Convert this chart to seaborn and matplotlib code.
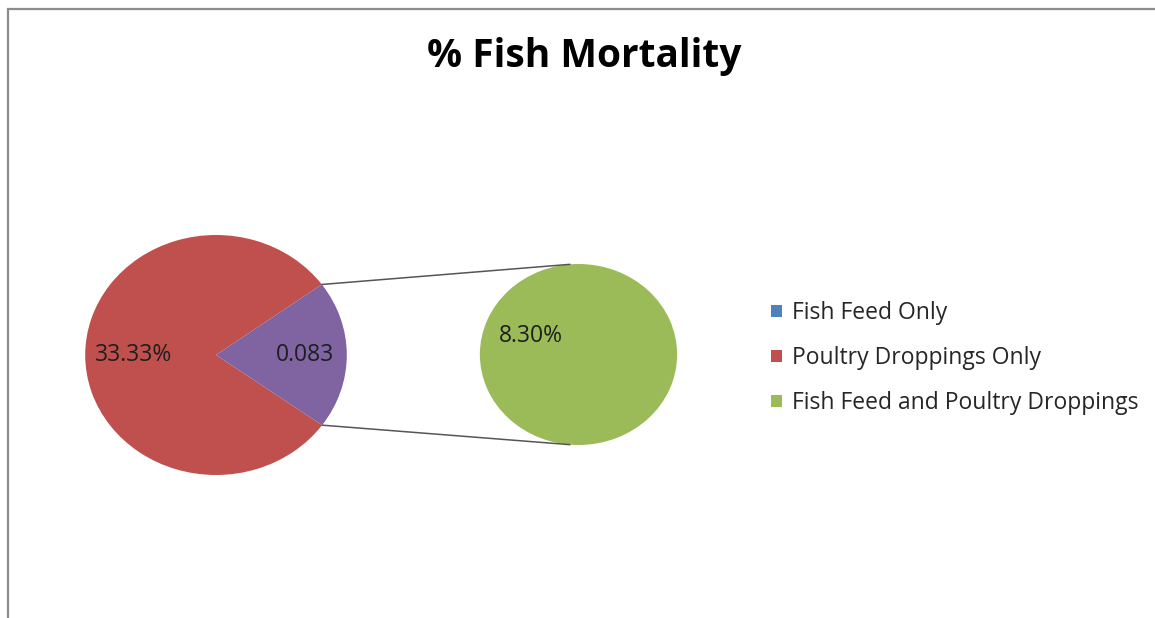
import numpy as np
import matplotlib
matplotlib.use("Agg")
import matplotlib.pyplot as plt
from matplotlib.patches import Rectangle, Patch
from matplotlib.lines import Line2D
import seaborn as sns

# Mortality shares per treatment (fractions)
categories = ["Fish Feed Only", "Poultry Droppings Only", "Fish Feed and Poultry Droppings"]
mortality = [0.0, 0.3333, 0.083]
# the secondary pie breaks out the last category; the main pie shows it as "Other"
main_values = [mortality[0], mortality[1], sum(mortality[2:])]
main_labels = ["", "33.33%", "0.083"]
second_values = [mortality[2]]
second_labels = ["8.30%"]

sns.set_theme(style="white")
plt.rcParams["font.family"] = ["Open Sans", "DejaVu Sans"]

colors = sns.color_palette(["#4F81BD", "#C0504D", "#9BBB59"])
other_color = "#8064A2"

W, H = 1155, 618
fig = plt.figure(figsize=(W / 100, H / 100), dpi=100)
ax = fig.add_axes([0, 0, 1, 1])

SX = 1.09  # horizontal stretch of the plot area
main_c = (216 / SX, H - 355)
main_r = 120
sec_c = (578.5 / SX, H - 354.5)
sec_r = 90.5

wedges_main, _ = ax.pie(main_values, colors=[colors[0], colors[1], other_color],
                        startangle=36, counterclock=True, center=main_c,
                        radius=main_r, wedgeprops=dict(linewidth=0))
wedges_sec, _ = ax.pie(second_values, colors=[colors[2]], startangle=90,
                       center=sec_c, radius=sec_r, wedgeprops=dict(linewidth=0))

ax.set_aspect("auto")
ax.set_xlim(0, W / SX)
ax.set_ylim(0, H)
ax.axis("off")

# data labels on the main pie
label_dist = {1: 0.63, 2: 0.68}
for i, w in enumerate(wedges_main):
    if not main_labels[i]:
        continue
    mid = np.deg2rad((w.theta1 + w.theta2) / 2)
    d = label_dist[i]
    ax.text(main_c[0] + d * main_r * np.cos(mid), main_c[1] + d * main_r * np.sin(mid),
            main_labels[i], ha="center", va="center", fontsize=16.5, color="#1e1e1e")

ax.text(sec_c[0] - 0.48 * sec_r, sec_c[1] + 0.20 * sec_r, second_labels[0],
        ha="center", va="center", fontsize=16.5, color="#1e1e1e")

# connector lines from the "Other" wedge to the secondary pie
other = wedges_main[2]
for th_main, th_sec in [(other.theta2, 95), (other.theta1, 265)]:
    a = np.deg2rad(th_main)
    b = np.deg2rad(th_sec)
    x0 = main_c[0] + main_r * np.cos(a)
    y0 = main_c[1] + main_r * np.sin(a)
    x1 = sec_c[0] + sec_r * np.cos(b)
    y1 = sec_c[1] + sec_r * np.sin(b)
    ax.add_line(Line2D([x0, x1], [y0, y1], color="#555555", lw=1.1))

# title
fig.text(584 / W, 1 - 57 / H, "% Fish Mortality", ha="center", va="center",
         fontsize=28, fontweight="bold", color="#000000")

# legend
handles = [Patch(facecolor=c, edgecolor="none") for c in colors]
fig.legend(handles, categories, loc="upper left",
           bbox_to_anchor=(760 / W, 1 - 290 / H), frameon=False,
           fontsize=16.5, handlelength=0.45, handleheight=0.45, handletextpad=0.45,
           labelspacing=0.91, labelcolor="#262626", borderpad=0)

# chart area border
fig.patches.append(Rectangle((8 / W, -0.05), 1.2, 1.05 - 9.5 / H + 0.0,
                             transform=fig.transFigure, fill=False,
                             edgecolor="#8c8c8c", lw=1.6))

fig.savefig("out.png", dpi=100, facecolor="white")
